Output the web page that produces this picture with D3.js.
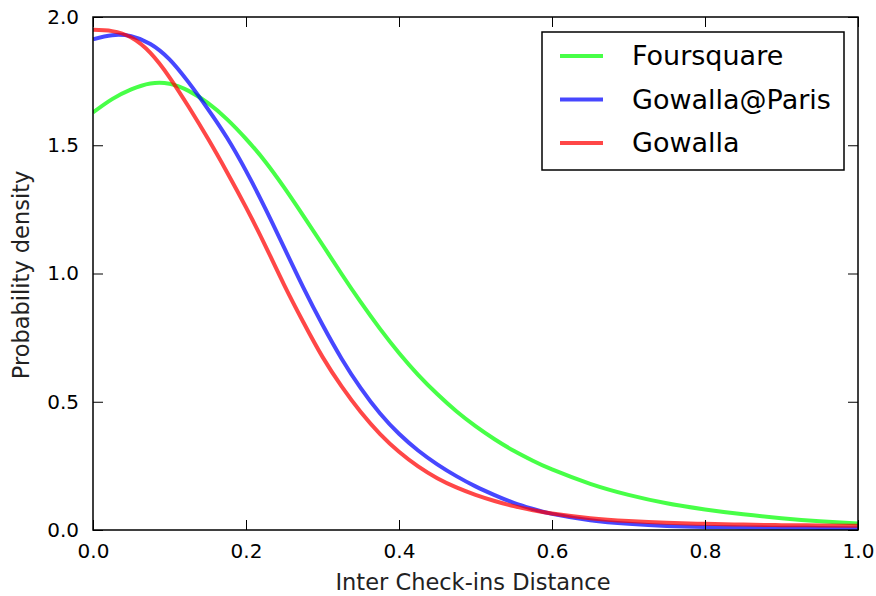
<!DOCTYPE html>
<html>
<head>
<meta charset="utf-8">
<script src="https://cdn.jsdelivr.net/npm/d3@7"></script>
<style>
  html, body { margin: 0; padding: 0; background: #fff; }
  svg { display: block; font-family: "DejaVu Sans", sans-serif; }
</style>
</head>
<body>
<svg id="chart" width="876" height="596"></svg>
<script>
// Sample positions along the inter check-in distance axis
const distance = [0, 0.025, 0.05, 0.075, 0.1, 0.125, 0.15, 0.175, 0.2, 0.225, 0.25, 0.275, 0.3,
  0.325, 0.35, 0.375, 0.4, 0.425, 0.45, 0.475, 0.5, 0.525, 0.55, 0.575, 0.6,
  0.65, 0.7, 0.75, 0.8, 0.85, 0.9, 0.95, 1.0];

// Estimated probability density per dataset
const foursquare = [1.628, 1.680, 1.718, 1.741, 1.740, 1.712, 1.665, 1.602, 1.525, 1.437, 1.335, 1.225, 1.112,
  0.998, 0.888, 0.785, 0.690, 0.605, 0.530, 0.463, 0.405, 0.354, 0.309, 0.270, 0.236,
  0.180, 0.137, 0.104, 0.080, 0.061, 0.046, 0.034, 0.025];
const gowallaParis = [1.913, 1.929, 1.925, 1.895, 1.835, 1.745, 1.642, 1.530, 1.400, 1.255, 1.100, 0.945, 0.800,
  0.668, 0.553, 0.455, 0.375, 0.310, 0.256, 0.210, 0.170, 0.136, 0.106, 0.082, 0.063,
  0.038, 0.024, 0.016, 0.012, 0.010, 0.009, 0.008, 0.007];
const gowalla = [1.950, 1.945, 1.920, 1.860, 1.765, 1.650, 1.527, 1.396, 1.258, 1.110, 0.955, 0.810, 0.675,
  0.560, 0.460, 0.375, 0.305, 0.248, 0.202, 0.166, 0.137, 0.113, 0.093, 0.077, 0.064,
  0.046, 0.035, 0.028, 0.024, 0.021, 0.019, 0.018, 0.017];

const seriesNames = ["Foursquare", "Gowalla@Paris", "Gowalla"];
const seriesColors = ["#00ff00", "#0000ff", "#ff0000"];
const seriesValues = [foursquare, gowallaParis, gowalla];

const xTicks = [0, 0.2, 0.4, 0.6, 0.8, 1.0];
const yTicks = [0, 0.5, 1.0, 1.5, 2.0];

const svg = d3.select("#chart");
const margin = { left: 93, top: 17, right: 876 - 858, bottom: 596 - 530 };
const W = 876 - margin.left - margin.right;
const H = 596 - margin.top - margin.bottom;

const x = d3.scaleLinear().domain([0, 1]).range([0, W]);
const y = d3.scaleLinear().domain([0, 2]).range([H, 0]);

const g = svg.append("g").attr("transform", `translate(${margin.left},${margin.top})`);

// Density curves, clipped to the plot area
svg.append("defs").append("clipPath").attr("id", "plot-clip")
  .append("rect").attr("x", 0).attr("y", 0).attr("width", W).attr("height", H);

const line = d3.line()
  .x((d, i) => x(distance[i]))
  .y(d => y(d))
  .curve(d3.curveNatural);

const curves = g.append("g").attr("clip-path", "url(#plot-clip)");
seriesValues.forEach((vals, k) => {
  curves.append("path")
    .attr("d", line(vals))
    .attr("fill", "none")
    .attr("stroke", seriesColors[k])
    .attr("stroke-opacity", 0.72)
    .attr("stroke-width", 4)
    .attr("stroke-linejoin", "round");
});

// Axes with inward ticks on all four sides
const fmt = d3.format(".1f");
const tickLen = 10;
const axisStyle = sel => {
  sel.select(".domain").remove();
  sel.selectAll(".tick line").attr("stroke", "#000").attr("stroke-width", 1);
  sel.selectAll(".tick text").attr("fill", "#000").style("font-size", "20px")
    .style("font-family", "'DejaVu Sans', sans-serif");
};

g.append("g").attr("transform", `translate(0,${H})`)
  .call(d3.axisBottom(x).tickValues(xTicks).tickFormat(fmt).tickSizeInner(-tickLen).tickPadding(14))
  .call(axisStyle);
g.append("g")
  .call(d3.axisTop(x).tickValues(xTicks).tickFormat("").tickSizeInner(-tickLen))
  .call(axisStyle);
g.append("g")
  .call(d3.axisLeft(y).tickValues(yTicks).tickFormat(fmt).tickSizeInner(-tickLen).tickPadding(14))
  .call(axisStyle);
g.append("g").attr("transform", `translate(${W},0)`)
  .call(d3.axisRight(y).tickValues(yTicks).tickFormat("").tickSizeInner(-tickLen))
  .call(axisStyle);

// Frame
g.append("rect").attr("x", 0).attr("y", 0).attr("width", W).attr("height", H)
  .attr("fill", "none").attr("stroke", "#000").attr("stroke-width", 1.5);

// Axis titles
svg.append("text")
  .attr("x", 473).attr("y", 590)
  .attr("text-anchor", "middle").style("font-size", "22.5px").attr("fill", "#222")
  .text("Inter Check-ins Distance");
svg.append("text")
  .attr("transform", `translate(29,275) rotate(-90)`)
  .attr("text-anchor", "middle").style("font-size", "22.5px").attr("fill", "#222")
  .text("Probability density");

// Legend
const legend = svg.append("g").attr("transform", "translate(542,32)");
legend.append("rect").attr("width", 302).attr("height", 138)
  .attr("fill", "#fff").attr("stroke", "#000").attr("stroke-width", 1.5);
seriesNames.forEach((name, k) => {
  const yy = 24 + k * 43.5;
  legend.append("line").attr("x1", 18).attr("x2", 61).attr("y1", yy).attr("y2", yy)
    .attr("stroke", seriesColors[k]).attr("stroke-opacity", 0.72).attr("stroke-width", 4);
  legend.append("text").attr("x", 90).attr("y", yy).attr("dy", "0.35em")
    .style("font-size", "27px").attr("fill", "#000").text(name);
});
</script>
</body>
</html>
